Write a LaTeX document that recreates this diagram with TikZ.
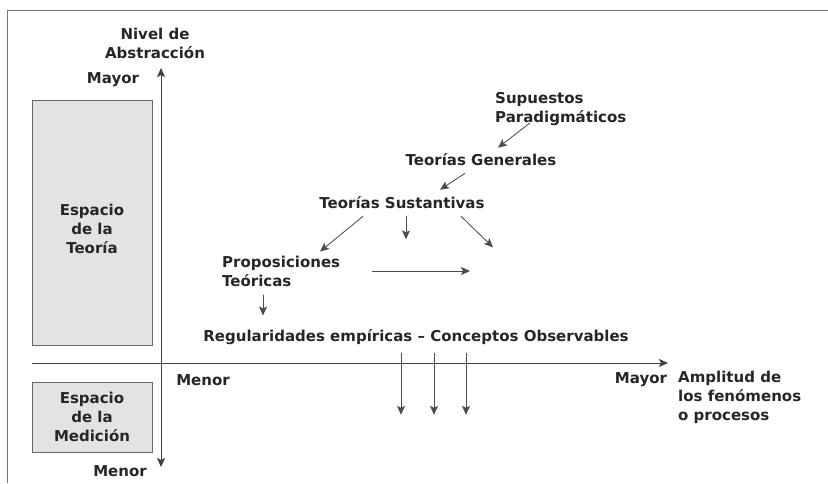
\documentclass[tikz,border=0pt]{standalone}
\usepackage{fontspec}
\setmainfont{DejaVu Sans}
\usetikzlibrary{positioning,arrows.meta}
\tikzset{>={Stealth[length=9pt,width=8pt,inset=2pt]}, % arrow heads as in the scan
x=1pt, y=1pt, % one unit is one pixel of the page
lbl/.style={font=\bfseries\fontsize{15}{19}\selectfont, text=black!85, inner sep=0pt, align=center}, % every text
lblleft/.style={lbl, align=left, anchor=west}, % texts set flush left
arr/.style={->, draw=black!70, fill=black!60, line width=0.8pt}, % the small arrows
axis/.style={draw=black!75, fill=black!60, line width=0.9pt}, % the two axes
space/.style={draw=black!60, fill=gray!22, line width=0.6pt}, % the two shaded boxes
}

\begin{document}
\begin{tikzpicture}
\useasboundingbox (0,0) rectangle (828,483);
% frame
\draw[black!55, line width=0.7pt] (7,0) -- (7,473) -- (828,473);

% shaded boxes
\draw[space] (32,138) rectangle (152,383);
\draw[space] (32,31) rectangle (152,101);
\node[lbl] (teoria) at (92,254) {Espacio\\de la\\Teoría};
\node[lbl] (medicion) at (92,66) {Espacio\\de la\\Medición};

% axes
\coordinate (ybot) at (161,16);
\coordinate (ytop) at (161,415);
\coordinate (xleft) at (32,120);
\coordinate (xright) at (668,120);
\draw[axis, <->] (ybot) -- (ytop);
\draw[axis, ->] (xleft) -- (xright);

\node[lbl] (nivel) at (155,440) {Nivel de\\Abstracción};
\node[lbl] (ymayor) at (113,403) {Mayor};
\node[lbl] (ymenor) at (120,12) {Menor};
\node[lbl] (xmenor) at (203,103) {Menor};
\node[lbl] (xmayor) at (641,103) {Mayor};
\node[lblleft] (amplitud) at (678,86) {Amplitud de\\los fenómenos\\o procesos};

% levels
\node[lblleft] (sup) at (495,374) {Supuestos\\Paradigmáticos};
\node[lbl] (gen) at (481,323) {Teorías Generales};
\node[lbl] (sust) at (402,280) {Teorías Sustantivas};
\node[lblleft] (prop) at (222,212) {Proposiciones\\Teóricas};
\node[lbl] (reg) at (416,146) {Regularidades empíricas – Conceptos Observables};

\draw[arr] ([shift={(35,3)}]sup.south west) -- ([shift={(17,6)}]gen.north);
\draw[arr] ([shift={(-16,-7)}]gen.south) -- ([shift={(38,7)}]sust.north);
\draw[arr] ([shift={(-39,-7)}]sust.south) -- ([shift={(98,4)}]prop.north west);
\draw[arr] ([shift={(4,-7)}]sust.south) -- ([shift={(4,-30)}]sust.south);
\draw[arr] ([shift={(59,-7)}]sust.south) -- ([shift={(91,-38)}]sust.south);
\draw[arr] ([shift={(150,0)}]prop.west) -- ([shift={(248,0)}]prop.west);
\draw[arr] ([shift={(41,-8)}]prop.south west) -- ([shift={(41,-29)}]prop.south west);

\foreach \dx in {-15,18,50}
  \draw[arr] ([shift={(\dx,-8)}]reg.south) -- ([shift={(\dx,-70)}]reg.south);
\end{tikzpicture}
\end{document}
